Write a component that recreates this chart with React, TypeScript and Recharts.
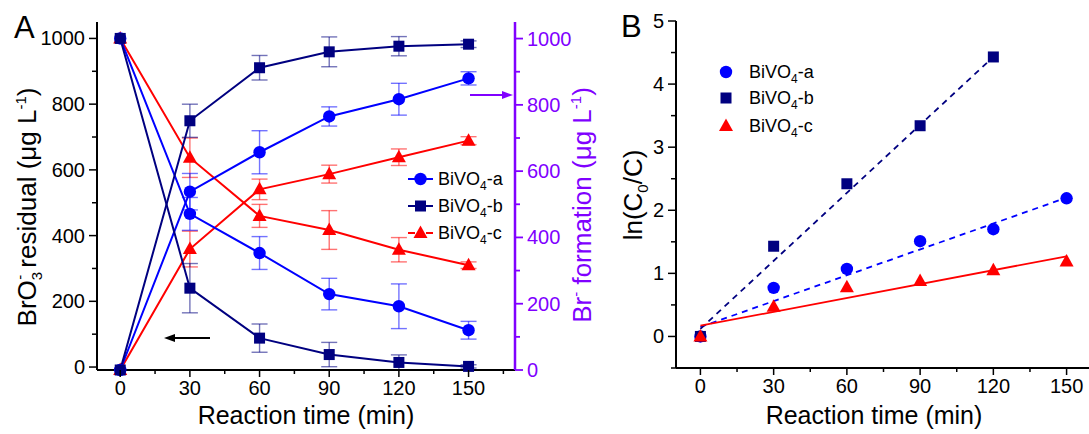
import React from 'react';
import { ComposedChart, Line, XAxis, YAxis, ErrorBar, Scatter } from 'recharts';

const FONT = '"Liberation Sans", Arial, sans-serif';
const NAVY = '#000080';
const BLUE = '#0000FF';
const RED = '#FF0000';
const PURPLE = '#8000FF';

// Panel A: reaction time (min)
const times = [0, 30, 60, 90, 120, 150];
// BrO3- residual (left axis)
const bro3A = [1000, 466, 347, 222, 185, 112];
const bro3AErr = [0, 50, 50, 48, 68, 27];
const bro3B = [1000, 240, 88, 38, 14, 2];
const bro3BErr = [0, 75, 43, 37, 23, 5];
const bro3C = [1000, 637, 460, 417, 357, 310];
const bro3CErr = [0, 60, 35, 59, 37, 10];
// Br- formation (right axis)
const brA = [0, 538, 657, 765, 817, 880];
const brAErr = [0, 55, 65, 29, 48, 20];
const brB = [0, 752, 912, 960, 977, 983];
const brBErr = [0, 50, 37, 45, 29, 10];
const brC = [0, 365, 545, 591, 642, 692];
const brCErr = [0, 54, 31, 27, 25, 12];

// Panel B: ln(C0/C)
const timesB = [0, 30, 60, 90, 120];
const lnA = [0, 0.77, 1.07, 1.51, 1.7, 2.19];
const lnB = [0, 1.43, 2.42, 3.34, 4.43];
const lnC = [0, 0.47, 0.78, 0.88, 1.05, 1.19];
// linear fits (end points)
const fitTimesAC = [0, 150];
const fitTimesB = [0, 118];
const fitA = [0.15, 2.2];
const fitB = [0.12, 4.36];
const fitC = [0.17, 1.27];

// tick values
const xTicks = [0, 15, 30, 45, 60, 75, 90, 105, 120, 135, 150, 165];
const xTicksB = [0, 15, 30, 45, 60, 75, 90, 105, 120, 135, 150];
const yTicksA = [0, 100, 200, 300, 400, 500, 600, 700, 800, 900, 1000];
const yTicksB = [-0.5, 0, 0.5, 1, 1.5, 2, 2.5, 3, 3.5, 4, 4.5, 5];

const rowsA = times.map((t, i) => ({
  t,
  dA: bro3A[i], dAe: bro3AErr[i],
  dB: bro3B[i], dBe: bro3BErr[i],
  dC: bro3C[i], dCe: bro3CErr[i],
  fA: brA[i], fAe: brAErr[i],
  fB: brB[i], fBe: brBErr[i],
  fC: brC[i], fCe: brCErr[i],
}));

const ptsA = times.map((t, i) => ({ t, v: lnA[i] }));
const ptsB = timesB.map((t, i) => ({ t, v: lnB[i] }));
const ptsC = times.map((t, i) => ({ t, v: lnC[i] }));
const lineA = fitTimesAC.map((t, i) => ({ t, v: fitA[i] }));
const lineB = fitTimesB.map((t, i) => ({ t, v: fitB[i] }));
const lineC = fitTimesAC.map((t, i) => ({ t, v: fitC[i] }));

type Shape = 'circle' | 'square' | 'triangle';

const Marker = ({ cx, cy, shape, color }: { cx: number; cy: number; shape: Shape; color: string }) => {
  if (cx == null || cy == null || isNaN(cx) || isNaN(cy)) return <g />;
  if (shape === 'circle') return <circle cx={cx} cy={cy} r={6.2} fill={color} />;
  if (shape === 'square') return <rect x={cx - 5.5} y={cy - 5.5} width={11} height={11} fill={color} />;
  return <path d={`M${cx},${cy - 7.5} L${cx + 7},${cy + 5} L${cx - 7},${cy + 5} Z`} fill={color} />;
};

const dotFn = (shape: Shape, color: string) => (p: any) => (
  <Marker key={`m-${p.index}`} cx={p.cx} cy={p.cy} shape={shape} color={color} />
);

const BottomTick = (step: number) => (p: any) => {
  const { x, y, payload } = p;
  const v = payload.value;
  const major = v % step === 0;
  return (
    <g>
      <line x1={x} x2={x} y1={y} y2={y + (major ? 7 : 4)} stroke="#000" strokeWidth={1.5} />
      {major && (
        <text x={x} y={y + 25} textAnchor="middle" fontSize={20} fontFamily={FONT} fill="#000">
          {v}
        </text>
      )}
    </g>
  );
};

const TopTick = (p: any) => {
  const { x, y } = p;
  return <line x1={x} x2={x} y1={y} y2={y + 3.5} stroke="#000" strokeWidth={1.2} />;
};

const LeftTick = (isMajor: (v: number) => boolean) => (p: any) => {
  const { x, y, payload } = p;
  const v = payload.value;
  const major = isMajor(v);
  return (
    <g>
      <line x1={x - (major ? 8 : 5)} x2={x} y1={y} y2={y} stroke="#000" strokeWidth={1.5} />
      {major && (
        <text x={x - 12} y={y + 7} textAnchor="end" fontSize={20} fontFamily={FONT} fill="#000">
          {v}
        </text>
      )}
    </g>
  );
};

const RightTick = (p: any) => {
  const { x, y, payload } = p;
  const v = payload.value;
  const major = v % 200 === 0;
  return (
    <g>
      <line x1={x} x2={x + (major ? 8 : 5)} y1={y} y2={y} stroke={PURPLE} strokeWidth={1.8} />
      {major && (
        <text x={x + 12} y={y + 7} textAnchor="start" fontSize={20} fontFamily={FONT} fill={PURPLE}>
          {v}
        </text>
      )}
    </g>
  );
};

const SUB = 15;

const LeftTitleA = () => (
  <text x={36} y={207} transform="rotate(-90, 36, 207)" textAnchor="middle" fontSize={26} fontFamily={FONT} fill="#000">
    BrO
    <tspan fontSize={SUB} dy={6}>3</tspan>
    <tspan fontSize={SUB} dy={-17} dx={-8}>-</tspan>
    <tspan dy={11}> residual (μg L</tspan>
    <tspan fontSize={SUB} dy={-10}>-1</tspan>
    <tspan dy={10}>)</tspan>
  </text>
);

const RightTitleA = () => (
  <text x={591} y={205} transform="rotate(-90, 591, 205)" textAnchor="middle" fontSize={26} fontFamily={FONT} fill={PURPLE}>
    Br
    <tspan fontSize={SUB} dy={-10}>-</tspan>
    <tspan dy={10}> formation (μg L</tspan>
    <tspan fontSize={SUB} dy={-10}>-1</tspan>
    <tspan dy={10}>)</tspan>
  </text>
);

const BottomTitle = (cx: number) => () => (
  <text x={cx} y={424} textAnchor="middle" fontSize={25} fontFamily={FONT} fill="#000">
    Reaction time (min)
  </text>
);

const LeftTitleB = () => (
  <text x={42} y={195} transform="rotate(-90, 42, 195)" textAnchor="middle" fontSize={26} fontFamily={FONT} fill="#000">
    ln(C
    <tspan fontSize={SUB} dy={6}>0</tspan>
    <tspan dy={-6}>/C)</tspan>
  </text>
);

const LegendRow = ({ y, shape, color, label, withLine, x0 }: any) => (
  <g>
    {withLine && <line x1={x0} x2={x0 + 25} y1={y} y2={y} stroke={color} strokeWidth={2} strokeDasharray="7 11 7" />}
    <Marker cx={withLine ? x0 + 12.5 : x0} cy={y} shape={shape} color={color} />
    <text x={withLine ? x0 + 30 : x0 + 23} y={y + 6} fontSize={18} fontFamily={FONT} fill="#000">
      BiVO<tspan fontSize={12} dy={5}>4</tspan>
      <tspan dy={-5}>-{label}</tspan>
    </text>
  </g>
);

export default function App() {
  return (
    <div style={{ position: 'absolute', left: 0, top: 0, width: 1089, height: 434, overflow: 'hidden', background: '#fff' }}>
      <div style={{ position: 'absolute', left: 0, top: 0 }}>
        <ComposedChart width={600} height={434} data={rowsA} margin={{ top: 22, right: 0, bottom: 0, left: 0 }}>
          <XAxis
            xAxisId="top"
            orientation="top"
            type="number"
            dataKey="t"
            domain={[-10, 170]}
            ticks={xTicks}
            interval={0}
            height={0}
            tickSize={0}
            tickMargin={0}
            tickLine={false}
            tick={TopTick}
            axisLine={{ stroke: '#000', strokeWidth: 2 }}
          />
          <XAxis
            type="number"
            dataKey="t"
            domain={[-10, 170]}
            ticks={xTicks}
            interval={0}
            height={64}
            tickSize={0}
            tickMargin={0}
            tickLine={false}
            tick={BottomTick(30)}
            axisLine={{ stroke: '#000', strokeWidth: 2 }}
            label={{ content: BottomTitle(306) }}
          />
          <YAxis
            yAxisId="l"
            domain={[0, 1050]}
            ticks={yTicksA}
            interval={0}
            width={97}
            tickSize={0}
            tickMargin={0}
            tickLine={false}
            tick={LeftTick((v) => v % 200 === 0)}
            axisLine={{ stroke: '#000', strokeWidth: 2 }}
            label={{ content: LeftTitleA }}
          />
          <YAxis
            yAxisId="r"
            orientation="right"
            domain={[0, 1050]}
            ticks={yTicksA}
            interval={0}
            width={85}
            tickSize={0}
            tickMargin={0}
            tickLine={false}
            tick={RightTick}
            axisLine={{ stroke: PURPLE, strokeWidth: 2.5 }}
            label={{ content: RightTitleA }}
          />
          <Line yAxisId="r" dataKey="fC" stroke={RED} strokeWidth={2} dot={dotFn('triangle', RED)} activeDot={false} isAnimationActive={false}>
            <ErrorBar dataKey="fCe" direction="y" width={8} stroke={RED} strokeOpacity={0.55} strokeWidth={1.4} isAnimationActive={false} />
          </Line>
          <Line yAxisId="l" dataKey="dC" stroke={RED} strokeWidth={2} dot={dotFn('triangle', RED)} activeDot={false} isAnimationActive={false}>
            <ErrorBar dataKey="dCe" direction="y" width={8} stroke={RED} strokeOpacity={0.55} strokeWidth={1.4} isAnimationActive={false} />
          </Line>
          <Line yAxisId="r" dataKey="fA" stroke={BLUE} strokeWidth={2} dot={dotFn('circle', BLUE)} activeDot={false} isAnimationActive={false}>
            <ErrorBar dataKey="fAe" direction="y" width={8} stroke={BLUE} strokeOpacity={0.55} strokeWidth={1.4} isAnimationActive={false} />
          </Line>
          <Line yAxisId="l" dataKey="dA" stroke={BLUE} strokeWidth={2} dot={dotFn('circle', BLUE)} activeDot={false} isAnimationActive={false}>
            <ErrorBar dataKey="dAe" direction="y" width={8} stroke={BLUE} strokeOpacity={0.55} strokeWidth={1.4} isAnimationActive={false} />
          </Line>
          <Line yAxisId="r" dataKey="fB" stroke={NAVY} strokeWidth={2} dot={dotFn('square', NAVY)} activeDot={false} isAnimationActive={false}>
            <ErrorBar dataKey="fBe" direction="y" width={8} stroke={NAVY} strokeOpacity={0.55} strokeWidth={1.4} isAnimationActive={false} />
          </Line>
          <Line yAxisId="l" dataKey="dB" stroke={NAVY} strokeWidth={2} dot={dotFn('square', NAVY)} activeDot={false} isAnimationActive={false}>
            <ErrorBar dataKey="dBe" direction="y" width={8} stroke={NAVY} strokeOpacity={0.55} strokeWidth={1.4} isAnimationActive={false} />
          </Line>
        </ComposedChart>
      </div>

      <div style={{ position: 'absolute', left: 600, top: 0 }}>
        <ComposedChart width={500} height={434} margin={{ top: 21, right: 9, bottom: 0, left: 0 }}>
          <XAxis
            xAxisId="top"
            orientation="top"
            type="number"
            dataKey="t"
            domain={[-10, 160]}
            ticks={xTicksB}
            interval={0}
            height={0}
            tickSize={0}
            tickMargin={0}
            tickLine={false}
            tick={TopTick}
            axisLine={{ stroke: '#000', strokeWidth: 2 }}
          />
          <XAxis
            type="number"
            dataKey="t"
            domain={[-10, 160]}
            ticks={xTicksB}
            interval={0}
            height={66}
            tickSize={0}
            tickMargin={0}
            tickLine={false}
            tick={BottomTick(30)}
            axisLine={{ stroke: '#000', strokeWidth: 2 }}
            label={{ content: BottomTitle(274) }}
          />
          <YAxis
            domain={[-0.5, 5]}
            ticks={yTicksB}
            interval={0}
            width={76}
            tickSize={0}
            tickMargin={0}
            tickLine={false}
            tick={LeftTick((v) => Number.isInteger(v))}
            axisLine={{ stroke: '#000', strokeWidth: 2 }}
            label={{ content: LeftTitleB }}
          />
          <Line data={lineA} dataKey="v" stroke={BLUE} strokeWidth={1.8} strokeDasharray="6 5" dot={false} activeDot={false} isAnimationActive={false} />
          <Line data={lineB} dataKey="v" stroke={NAVY} strokeWidth={1.8} strokeDasharray="6 5" dot={false} activeDot={false} isAnimationActive={false} />
          <Line data={lineC} dataKey="v" stroke={RED} strokeWidth={1.8} dot={false} activeDot={false} isAnimationActive={false} />
          <Scatter data={ptsA} dataKey="v" isAnimationActive={false} shape={(p: any) => <Marker cx={p.cx} cy={p.cy} shape="circle" color={BLUE} />} />
          <Scatter data={ptsB} dataKey="v" isAnimationActive={false} shape={(p: any) => <Marker cx={p.cx} cy={p.cy} shape="square" color={NAVY} />} />
          <Scatter data={ptsC} dataKey="v" isAnimationActive={false} shape={(p: any) => <Marker cx={p.cx} cy={p.cy} shape="triangle" color={RED} />} />
        </ComposedChart>
      </div>

      <svg width={1089} height={434} style={{ position: 'absolute', left: 0, top: 0, pointerEvents: 'none' }}>
        <text x={14} y={38} fontSize={31} fontFamily={FONT} fill="#000">A</text>
        <text x={621} y={37} fontSize={31} fontFamily={FONT} fill="#000">B</text>
        {/* axis indicator arrows */}
        <line x1={210} x2={172} y1={338} y2={338} stroke="#000" strokeWidth={1.8} />
        <path d="M164,338 L175,334 L175,342 Z" fill="#000" />
        <line x1={470} x2={504} y1={95} y2={95} stroke={PURPLE} strokeWidth={1.8} />
        <path d="M513,95 L502,91 L502,99 Z" fill={PURPLE} />
        {/* legend A */}
        <LegendRow x0={408} y={179} shape="circle" color={BLUE} label="a" withLine />
        <LegendRow x0={408} y={206} shape="square" color={NAVY} label="b" withLine />
        <LegendRow x0={408} y={233} shape="triangle" color={RED} label="c" withLine />
        {/* legend B */}
        <LegendRow x0={726} y={72} shape="circle" color={BLUE} label="a" />
        <LegendRow x0={726} y={98} shape="square" color={NAVY} label="b" />
        <LegendRow x0={726} y={126} shape="triangle" color={RED} label="c" />
      </svg>
    </div>
  );
}
